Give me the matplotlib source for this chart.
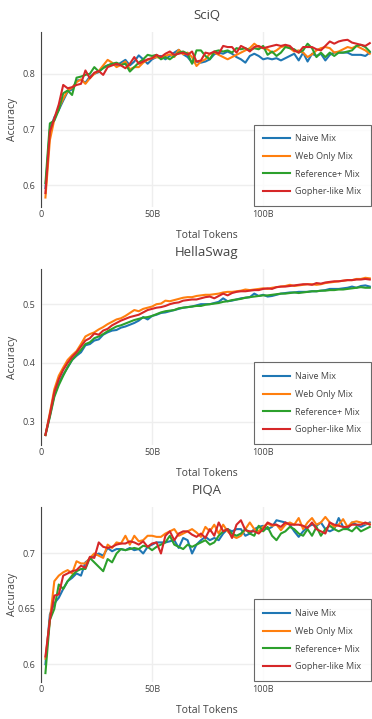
import numpy as np
from matplotlib import pyplot as plt

plt.rcParams['font.family'] = ['Open Sans', 'DejaVu Sans']

# checkpoints every 2B tokens
tokens = np.arange(2, 150, 2)

names = ['Naive Mix', 'Web Only Mix', 'Reference+ Mix', 'Gopher-like Mix']
colors = ['#1f77b4', '#ff7f0e', '#2ca02c', '#d62728']

sciq_naive = [0.595, 0.700, 0.722, 0.735, 0.752, 0.768, 0.772, 0.788, 0.789, 0.784,
              0.795, 0.800, 0.803, 0.812, 0.815, 0.818, 0.815, 0.820, 0.825, 0.815,
              0.822, 0.833, 0.826, 0.818, 0.826, 0.830, 0.832, 0.826, 0.832, 0.838,
              0.843, 0.835, 0.830, 0.820, 0.822, 0.820, 0.822, 0.826, 0.835, 0.838,
              0.836, 0.840, 0.836, 0.830, 0.826, 0.820, 0.832, 0.836, 0.832, 0.826,
              0.828, 0.826, 0.828, 0.824, 0.828, 0.832, 0.836, 0.824, 0.838, 0.822,
              0.836, 0.832, 0.836, 0.824, 0.834, 0.838, 0.838, 0.838, 0.838, 0.834,
              0.834, 0.834, 0.832, 0.838]
sciq_web = [0.578, 0.681, 0.718, 0.738, 0.755, 0.770, 0.775, 0.785, 0.790, 0.782,
            0.792, 0.800, 0.805, 0.815, 0.825, 0.820, 0.812, 0.816, 0.822, 0.808,
            0.812, 0.812, 0.820, 0.825, 0.828, 0.830, 0.828, 0.832, 0.835, 0.830,
            0.843, 0.835, 0.838, 0.830, 0.814, 0.822, 0.826, 0.836, 0.838, 0.834,
            0.830, 0.826, 0.830, 0.834, 0.838, 0.842, 0.846, 0.854, 0.848, 0.846,
            0.844, 0.838, 0.842, 0.848, 0.850, 0.846, 0.840, 0.842, 0.838, 0.830,
            0.835, 0.842, 0.846, 0.848, 0.846, 0.838, 0.840, 0.844, 0.848, 0.846,
            0.850, 0.846, 0.842, 0.836]
sciq_ref = [0.604, 0.711, 0.716, 0.735, 0.765, 0.770, 0.762, 0.793, 0.795, 0.798,
            0.800, 0.812, 0.804, 0.810, 0.815, 0.818, 0.820, 0.816, 0.818, 0.804,
            0.812, 0.820, 0.826, 0.834, 0.832, 0.834, 0.826, 0.830, 0.826, 0.832,
            0.838, 0.840, 0.836, 0.818, 0.842, 0.842, 0.832, 0.826, 0.840, 0.842,
            0.840, 0.842, 0.838, 0.846, 0.844, 0.846, 0.842, 0.846, 0.844, 0.850,
            0.834, 0.840, 0.832, 0.838, 0.848, 0.846, 0.844, 0.838, 0.842, 0.854,
            0.846, 0.830, 0.838, 0.830, 0.838, 0.832, 0.838, 0.838, 0.840, 0.842,
            0.850, 0.852, 0.848, 0.840]
sciq_gopher = [0.586, 0.696, 0.720, 0.745, 0.780, 0.774, 0.776, 0.780, 0.782, 0.806,
               0.792, 0.802, 0.805, 0.798, 0.812, 0.815, 0.818, 0.815, 0.810, 0.818,
               0.830, 0.818, 0.822, 0.826, 0.828, 0.834, 0.830, 0.836, 0.840, 0.834,
               0.836, 0.838, 0.834, 0.840, 0.822, 0.824, 0.838, 0.836, 0.840, 0.836,
               0.850, 0.848, 0.848, 0.838, 0.850, 0.846, 0.840, 0.848, 0.850, 0.846,
               0.848, 0.850, 0.852, 0.850, 0.852, 0.850, 0.842, 0.838, 0.848, 0.848,
               0.848, 0.844, 0.842, 0.850, 0.858, 0.854, 0.858, 0.860, 0.861, 0.856,
               0.854, 0.852, 0.850, 0.855]

hs_naive = [0.277, 0.310, 0.345, 0.365, 0.380, 0.392, 0.405, 0.412, 0.418, 0.430,
            0.432, 0.438, 0.440, 0.448, 0.452, 0.455, 0.456, 0.460, 0.462, 0.465,
            0.468, 0.472, 0.478, 0.474, 0.480, 0.482, 0.485, 0.486, 0.488, 0.490,
            0.492, 0.494, 0.495, 0.496, 0.498, 0.500, 0.500, 0.500, 0.502, 0.504,
            0.510, 0.505, 0.506, 0.508, 0.510, 0.511, 0.512, 0.518, 0.514, 0.516,
            0.513, 0.514, 0.516, 0.518, 0.519, 0.520, 0.520, 0.521, 0.521, 0.521,
            0.522, 0.522, 0.523, 0.524, 0.526, 0.526, 0.526, 0.527, 0.528, 0.530,
            0.528, 0.531, 0.532, 0.530]
hs_web = [0.277, 0.315, 0.355, 0.378, 0.392, 0.405, 0.413, 0.420, 0.432, 0.445,
          0.449, 0.452, 0.457, 0.461, 0.466, 0.470, 0.474, 0.476, 0.480, 0.485,
          0.490, 0.488, 0.492, 0.494, 0.496, 0.500, 0.501, 0.506, 0.505, 0.507,
          0.509, 0.511, 0.512, 0.512, 0.514, 0.515, 0.516, 0.516, 0.517, 0.518,
          0.520, 0.521, 0.521, 0.522, 0.523, 0.525, 0.524, 0.525, 0.526, 0.527,
          0.526, 0.528, 0.529, 0.530, 0.531, 0.533, 0.531, 0.532, 0.533, 0.534,
          0.534, 0.533, 0.534, 0.536, 0.537, 0.538, 0.539, 0.540, 0.541, 0.541,
          0.543, 0.543, 0.545, 0.544]
hs_ref = [0.277, 0.308, 0.342, 0.362, 0.378, 0.393, 0.405, 0.414, 0.422, 0.432,
          0.435, 0.442, 0.445, 0.449, 0.454, 0.458, 0.462, 0.464, 0.467, 0.470,
          0.473, 0.475, 0.477, 0.478, 0.480, 0.483, 0.486, 0.488, 0.489, 0.490,
          0.493, 0.494, 0.495, 0.496, 0.497, 0.497, 0.499, 0.500, 0.501, 0.502,
          0.504, 0.505, 0.507, 0.508, 0.509, 0.511, 0.512, 0.513, 0.514, 0.515,
          0.515, 0.516, 0.517, 0.518, 0.518, 0.519, 0.520, 0.519, 0.520, 0.521,
          0.522, 0.522, 0.523, 0.523, 0.524, 0.524, 0.525, 0.525, 0.526, 0.527,
          0.528, 0.529, 0.528, 0.528]
hs_gopher = [0.277, 0.312, 0.350, 0.372, 0.388, 0.400, 0.410, 0.418, 0.428, 0.438,
             0.442, 0.450, 0.448, 0.455, 0.458, 0.464, 0.468, 0.472, 0.475, 0.478,
             0.480, 0.482, 0.486, 0.490, 0.492, 0.494, 0.495, 0.497, 0.500, 0.502,
             0.503, 0.506, 0.507, 0.508, 0.508, 0.510, 0.512, 0.513, 0.510, 0.514,
             0.518, 0.515, 0.519, 0.521, 0.522, 0.522, 0.523, 0.524, 0.524, 0.526,
             0.527, 0.526, 0.529, 0.530, 0.530, 0.531, 0.532, 0.533, 0.534, 0.534,
             0.533, 0.536, 0.535, 0.537, 0.538, 0.539, 0.539, 0.540, 0.541, 0.541,
             0.542, 0.542, 0.543, 0.542]

piqa_naive = [0.600, 0.645, 0.655, 0.660, 0.668, 0.675, 0.678, 0.682, 0.680, 0.692,
              0.695, 0.698, 0.700, 0.698, 0.705, 0.702, 0.704, 0.704, 0.703, 0.705,
              0.703, 0.704, 0.700, 0.706, 0.708, 0.710, 0.710, 0.710, 0.711, 0.712,
              0.705, 0.714, 0.712, 0.700, 0.708, 0.712, 0.715, 0.712, 0.714, 0.712,
              0.718, 0.722, 0.720, 0.722, 0.722, 0.716, 0.718, 0.722, 0.724, 0.725,
              0.722, 0.724, 0.730, 0.729, 0.728, 0.726, 0.720, 0.715, 0.720, 0.724,
              0.726, 0.725, 0.728, 0.722, 0.720, 0.722, 0.732, 0.724, 0.722, 0.728,
              0.726, 0.724, 0.726, 0.728]
piqa_web = [0.605, 0.640, 0.675, 0.680, 0.683, 0.685, 0.682, 0.693, 0.691, 0.691,
            0.696, 0.700, 0.698, 0.696, 0.708, 0.705, 0.710, 0.709, 0.716, 0.708,
            0.716, 0.711, 0.712, 0.716, 0.716, 0.715, 0.715, 0.718, 0.720, 0.722,
            0.716, 0.718, 0.720, 0.722, 0.719, 0.715, 0.724, 0.720, 0.726, 0.718,
            0.726, 0.720, 0.716, 0.714, 0.716, 0.722, 0.728, 0.722, 0.720, 0.724,
            0.727, 0.725, 0.726, 0.721, 0.726, 0.728, 0.726, 0.732, 0.722, 0.728,
            0.732, 0.726, 0.728, 0.733, 0.728, 0.724, 0.726, 0.731, 0.724, 0.728,
            0.729, 0.728, 0.727, 0.727]
piqa_ref = [0.592, 0.640, 0.650, 0.672, 0.668, 0.675, 0.680, 0.684, 0.686, 0.686,
            0.696, 0.692, 0.688, 0.684, 0.695, 0.692, 0.700, 0.704, 0.703, 0.704,
            0.705, 0.704, 0.707, 0.706, 0.703, 0.706, 0.708, 0.710, 0.716, 0.708,
            0.706, 0.704, 0.708, 0.706, 0.708, 0.710, 0.712, 0.708, 0.710, 0.716,
            0.720, 0.722, 0.718, 0.716, 0.718, 0.722, 0.718, 0.716, 0.725, 0.720,
            0.724, 0.716, 0.712, 0.718, 0.720, 0.724, 0.722, 0.718, 0.716, 0.722,
            0.716, 0.724, 0.716, 0.722, 0.725, 0.722, 0.720, 0.722, 0.722, 0.720,
            0.724, 0.720, 0.722, 0.724]
piqa_gopher = [0.607, 0.640, 0.662, 0.663, 0.680, 0.682, 0.684, 0.685, 0.689, 0.687,
               0.697, 0.696, 0.710, 0.706, 0.705, 0.706, 0.708, 0.709, 0.709, 0.711,
               0.710, 0.708, 0.711, 0.706, 0.709, 0.710, 0.700, 0.716, 0.720, 0.712,
               0.718, 0.720, 0.720, 0.717, 0.715, 0.718, 0.714, 0.722, 0.716, 0.728,
               0.720, 0.722, 0.714, 0.726, 0.730, 0.721, 0.720, 0.720, 0.718, 0.722,
               0.728, 0.726, 0.726, 0.724, 0.728, 0.726, 0.726, 0.726, 0.725, 0.723,
               0.728, 0.722, 0.720, 0.718, 0.728, 0.726, 0.725, 0.724, 0.724, 0.726,
               0.726, 0.726, 0.728, 0.726]

panels = [
    ('SciQ', [sciq_naive, sciq_web, sciq_ref, sciq_gopher], (0.561, 0.875), [0.6, 0.7, 0.8],
     [0.7121, 0.2434]),
    ('HellaSwag', [hs_naive, hs_web, hs_ref, hs_gopher], (0.260, 0.560), [0.3, 0.4, 0.5],
     [0.3811, 0.2448]),
    ('PIQA', [piqa_naive, piqa_web, piqa_ref, piqa_gopher], (0.584, 0.742), [0.6, 0.65, 0.7],
     [0.0515, 0.2434]),
]

fig = plt.figure(figsize=(3.72, 7.19), dpi=100)

for title, series, ylim, yticks, (bottom, height) in panels:
    ax = fig.add_axes([0.1102, bottom, 0.8898, height])
    for vals, name, c in zip(series, names, colors):
        ax.plot(tokens, vals, color=c, lw=1.5, label=name)
    ax.set_xlim(0, 149)
    ax.set_ylim(*ylim)
    ax.set_xticks([0, 50, 100])
    ax.set_xticklabels(['0', '50B', '100B'])
    ax.set_yticks(yticks)
    ax.set_yticklabels([('%g' % t) for t in yticks])
    ax.grid(True, color='#eeeeee', lw=1)
    ax.set_axisbelow(True)
    for s in ['top', 'right', 'bottom']:
        ax.spines[s].set_visible(False)
    ax.spines['left'].set_color('#444444')
    ax.tick_params(length=0, labelsize=6.5, labelcolor='#444444')
    ax.tick_params(axis='x', pad=2)
    ax.tick_params(axis='y', pad=4)
    ax.set_title(title, fontsize=9.5, color='#444444', pad=9)
    ax.set_xlabel('Total Tokens', fontsize=7.5, color='#444444')
    ax.set_ylabel('Accuracy', fontsize=7.5, color='#444444')
    ax.xaxis.set_label_coords(0.5, -0.13)
    ax.yaxis.set_label_coords(-0.068, 0.5)
    leg = ax.legend(loc='lower right', fontsize=6.5, frameon=True, fancybox=False,
                    borderaxespad=0.1, handlelength=2.9, handletextpad=0.6,
                    labelspacing=0.95, borderpad=1.1)
    leg.get_frame().set_edgecolor('#444444')
    leg.get_frame().set_linewidth(0.8)
    for t in leg.get_texts():
        t.set_color('#444444')

fig.savefig('out.png', dpi=100)
